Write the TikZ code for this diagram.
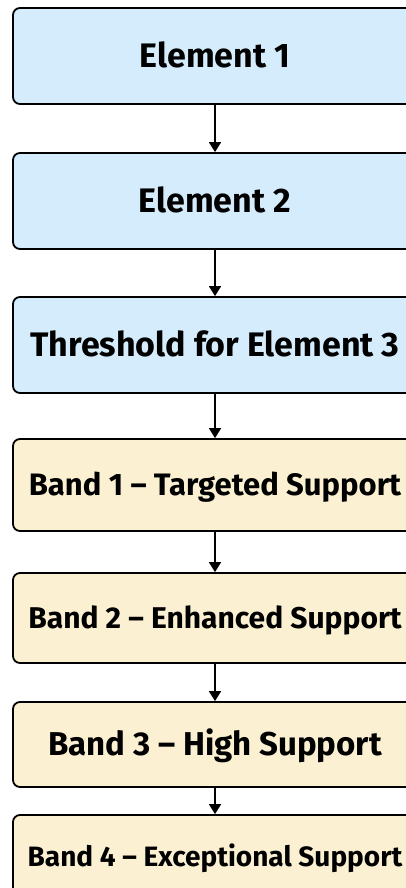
\documentclass[tikz,border=0pt]{standalone}
\usepackage{fontspec}
\setmainfont{Fira Sans}
\usetikzlibrary{arrows.meta, positioning}

\definecolor{elemblue}{RGB}{212,236,251}
\definecolor{bandcream}{RGB}{251,241,210}

\tikzset{
    box/.style={draw, line width=1.8pt, rounded corners=7pt, minimum width=404pt, inner sep=0pt},
    elem/.style={box, fill=elemblue},
    band/.style={box, fill=bandcream},
    % font size in pt; caps are kept centred in the box
    txt/.style={font=\bfseries\fontsize{#1}{#1}\selectfont, text height={0.69*#1pt}, text depth=0pt},
    link/.style={-{Triangle[width=12pt, length=10pt]}, line width=1.7pt},
}

\begin{document}
\begin{tikzpicture}[x=1pt, y=1pt]
    \useasboundingbox (0, 0) rectangle (406, -888);
    \clip (0, 0) rectangle (406, -888);

    \node[elem, txt=34, minimum height=96pt] (E1) at (215, -56) {Element 1};
    \node[elem, txt=34, minimum height=96pt] (E2) at (215, -201) {Element 2};
    \node[elem, txt=34, minimum height=96pt] (T3) at (215, -345) {Threshold for Element 3};
    \node[band, txt=31, minimum height=92pt] (B1) at (215, -485) {Band 1 -- Targeted Support};
    \node[band, txt=30, minimum height=90pt] (B2) at (215, -618) {Band 2 -- Enhanced Support};
    \node[band, txt=33, minimum height=85pt] (B3) at (215, -744.5) {Band 3 -- High Support};
    \node[band, txt=28, minimum height=84pt] (B4) at (215, -857) {Band 4 -- Exceptional Support};

    \draw[link] (E1) -- (E2);
    \draw[link] (E2) -- (T3);
    \draw[link] (T3) -- (B1);
    \draw[link] (B1) -- (B2);
    \draw[link] (B2) -- (B3);
    \draw[link] (B3) -- (B4);
\end{tikzpicture}
\end{document}
